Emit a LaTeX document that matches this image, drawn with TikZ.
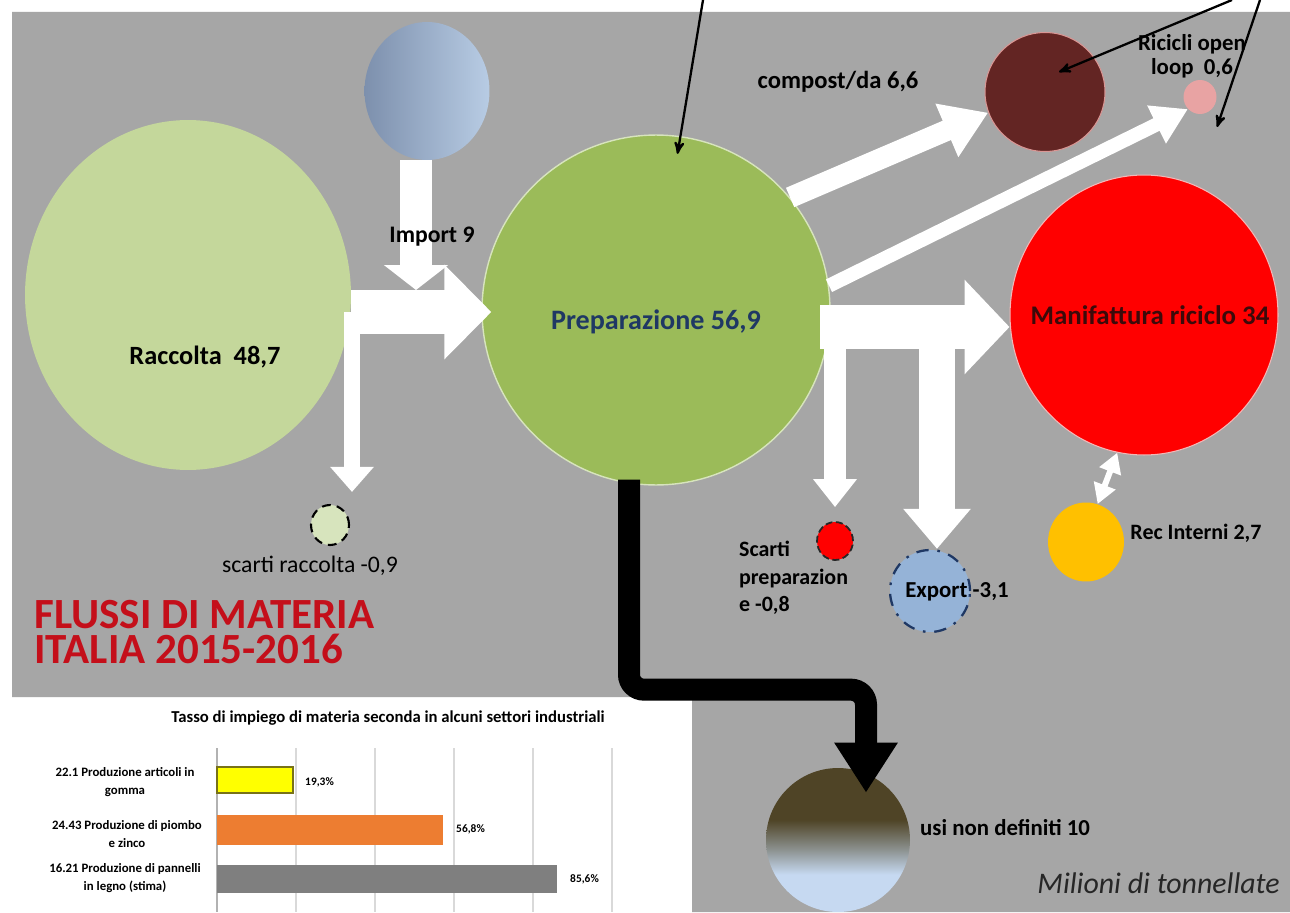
\documentclass[tikz,border=0pt]{standalone}
\usepackage{fontspec}
\setmainfont{Carlito}
\usetikzlibrary{positioning,shapes,calc}
\usetikzlibrary{arrows,arrows.meta}
\usepackage{xcolor}
\definecolor{fondo}{HTML}{A6A6A6}
\definecolor{racc}{HTML}{C4D79B}
\definecolor{prep}{HTML}{9BBB59}
\definecolor{prepb}{HTML}{D7E4BD}
\definecolor{prept}{HTML}{1F3864}
\definecolor{impl}{HTML}{7D90AD}
\definecolor{impr}{HTML}{B8CCE4}
\definecolor{manb}{HTML}{F2B8B8}
\definecolor{manl}{HTML}{3C0A0A}
\definecolor{comp}{HTML}{632523}
\definecolor{compb}{HTML}{D99694}
\definecolor{ric}{HTML}{E8A3A3}
\definecolor{expo}{HTML}{95B3D7}
\definecolor{rec}{HTML}{FFC000}
\definecolor{usit}{HTML}{4F4426}
\definecolor{usib}{HTML}{C6D9F1}
\definecolor{usim}{HTML}{8A8F8C}
\definecolor{tit}{HTML}{C40F1A}
\definecolor{gomma}{HTML}{FFFF00}
\definecolor{piombo}{HTML}{ED7D31}
\definecolor{legno}{HTML}{7F7F7F}
\definecolor{griglia}{HTML}{D9D9D9}
\pgfdeclareverticalshading{usish}{100bp}{color(0bp)=(usib); color(38bp)=(usib);
  color(47bp)=(usim); color(57bp)=(usit); color(100bp)=(usit)}

\begin{document}
\begin{tikzpicture}[x=0.02cm,y=-0.02cm,
    c/.style={ellipse,inner sep=0pt},%
    w/.style={draw=white,line width=#1},%
    k/.style={->,>=stealth',line width=1.3pt},%
    t/.style={font=\fontsize{#1}{#1}\selectfont\bfseries,inner sep=1pt},%
    h/.style={font=\fontsize{24.5}{20}\selectfont\bfseries,text=tit,anchor=base west,
              inner sep=0pt,text height=16pt,text depth=0pt},%
    g/.style={font=\fontsize{7.3}{10}\selectfont\bfseries,align=center,inner sep=0pt}]
    % sfondo
    \fill[white](0,0)rectangle(1290,912);
    \useasboundingbox(0,0)rectangle(1290,912);
    \fill[fondo](12,12)--(1290,12)--(1290,912)--(692,912)--(692,697)--(12,697)--cycle;

    % cerchi
    \node[c,fill=racc,minimum width=6.52cm,minimum height=7cm] (Racc) at (188,295) {};
    \node[c,left color=impl,right color=impr,minimum width=2.5cm,minimum height=2.76cm] (Imp) at (427,91) {};
    \node[c,fill=prep,draw=prepb,line width=.8pt,minimum width=6.96cm,minimum height=7cm] (Prep) at (656,310) {};
    \node[c,fill=red,draw=manb,line width=.6pt,minimum width=5.36cm,minimum height=5.6cm] (Man) at (1144,315) {};
    \node[c,fill=comp,draw=compb,line width=.6pt,minimum width=2.4cm,minimum height=2.38cm] (Comp) at (1045,92) {};
    \node[c,fill=ric,minimum width=.66cm,minimum height=.68cm] (Ric) at (1200,97) {};
    \node[c,fill=prepb,draw=black,line width=1.2pt,dash pattern=on 5pt off 3.5pt,
          minimum width=.76cm,minimum height=.8cm] (SR) at (330,525) {};
    \node[c,fill=red,draw=black!85,line width=1pt,dash pattern=on 4pt off 2pt,
          minimum width=.72cm,minimum height=.76cm] (SP) at (835,541) {};
    \node[c,fill=expo,draw=prept,line width=1.3pt,dash pattern=on 7pt off 5pt on 1.5pt off 5pt,
          minimum width=1.6cm,minimum height=1.64cm] (Exp) at (930,591) {};
    \node[c,fill=rec,minimum width=1.52cm,minimum height=1.58cm] (Rec) at (1086,542) {};
    \node[c,shading=usish,minimum width=2.88cm,minimum height=2.88cm] (Usi) at (838,840) {};

    % nodi dei flussi
    \coordinate (j0) at (416,290);
    \coordinate (j1) at (352,312);
    \coordinate (j2) at (820,327);
    \coordinate (j3) at (835,327);
    \coordinate (j4) at (937,327);
    \coordinate (t1) at (703,0);
    \coordinate (t2) at (1232,0);
    \coordinate (t3) at (1260,0);

    % flussi bianchi
    \draw[w=.64cm,-{Triangle[length=.5cm,width=1.26cm]}] (Imp.south -| j0) -- (j0);
    \draw[w=.9cm,-{Triangle[length=.94cm,width=1.84cm]},shorten >=-.2cm] (Racc.east |- j1) -- (j1 -| Prep.west);
    \draw[w=.32cm,-{Triangle[length=.5cm,width=.84cm]},shorten >=.24cm] (j1) -- (j1 |- SR.north);
    \draw[w=.9cm,-{Triangle[length=.9cm,width=1.84cm]}] (j2) -- (j2 -| Man.west);
    \draw[w=.44cm,-{Triangle[length=.56cm,width=.84cm]},shorten >=.28cm] (j3) -- (j3 |- SP.north);
    \draw[w=.72cm,-{Triangle[length=.8cm,width=1.3cm]}] (j4) -- (j4 |- Exp.north);
    \draw[w=.42cm,-{Triangle[length=.9cm,width=1.1cm]}] (Prep.40) -- (Comp.200);
    \draw[w=.28cm,-{Triangle[length=.7cm,width=.8cm]}] (Prep.8) -- (Ric.225);
    \draw[w=.12cm,{Triangle[length=.4cm,width=.44cm]}-{Triangle[length=.4cm,width=.44cm]}] (Rec.73) -- (Man.259);

    % flussi neri
    \draw[line width=.44cm,rounded corners=.3cm,-{Triangle[length=1cm,width=1.2cm]}]
        ($(Prep.south)+(-27,-6)$) |- ($(Usi.north)+(28,-78)$) -- ($(Usi.north)+(28,25)$);
    \draw[k,shorten >=-.36cm] (t1) -- (Prep.82);
    \draw[k] (t2) -- ($(Comp)+(14,-20)$);
    \draw[k] (t3) -- ($(Ric)+(17,30)$);

    % etichette
    \node[t=15] (RaccL) at (205,357) {Raccolta\ \ 48,7};
    \node[t=13.5] (ImpL) at (432,237) {Import 9};
    \node[t=16,text=prept] (PrepL) at (656,322) {Preparazione 56,9};
    \node[t=15.3,text=manl] (ManL) at (1150,315) {Manifattura riciclo 34};
    \node[t=14] (CompL) at (838,82) {compost/da 6,6};
    \node[t=13,font=\fontsize{13}{13.7}\selectfont\bfseries,align=center] (RicL) at (1192,56) {Ricicli open\\loop\ \ 0,6};
    \node[t=13.5,font=\fontsize{13.5}{14}\selectfont] (SRL) at (310,566) {scarti raccolta -0,9};
    \node[t=12.5,font=\fontsize{12.5}{15.6}\selectfont\bfseries,align=left,anchor=west] (SPL) at (737,578) {Scarti\\preparazion\\e -0,8};
    \node[t=13] (ExpL) at (957,592) {Export\hspace{3pt}-3,1};
    \node[t=12.5,anchor=west,right=.08cm of Rec,yshift=.18cm] (RecL) {Rec Interni 2,7};
    \node[t=13,anchor=west] (UsiL) at (918,828) {usi non definiti 10};
    \node[font=\fontsize{17}{17}\selectfont\itshape,text=black!85,anchor=east] (MilL) at (1286,883) {Milioni di tonnellate};
    \node[h] (Tit1) at (34,628) {FLUSSI DI MATERIA};
    \node[h] (Tit2) at (34,663) {ITALIA 2015-2016};

    % grafico
    \node[font=\fontsize{9.5}{11}\selectfont\bfseries] (GTit) at (388,718) {Tasso di impiego di materia seconda in alcuni settori industriali};
    \foreach \i in {296,375,454,533,612}
        \draw[griglia,line width=.6pt](\i,748)--(\i,912);
    \draw[black!30,line width=.6pt](217,748)--(217,912);
    \fill[gomma,draw=olive!80!black,line width=.6pt](217,767)rectangle(293,793);
    \fill[piombo](217,815)rectangle(443,845);
    \fill[legno](217,865)rectangle(557,893);
    \node[font=\fontsize{6.5}{7}\selectfont\bfseries,anchor=west] (V1) at (299,782) {19,3\%};
    \node[font=\fontsize{6.5}{7}\selectfont\bfseries,anchor=west] (V2) at (450,829) {56,8\%};
    \node[font=\fontsize{6.5}{7}\selectfont\bfseries,anchor=west] (V3) at (564,879) {85,6\%};
    \node[g] (C1) at (125,782) {22.1 Produzione articoli in\\gomma};
    \node[g] (C2) at (127,834) {24.43 Produzione di piombo\\e zinco};
    \node[g] (C3) at (125,878) {16.21 Produzione di pannelli\\in legno (stima)};
\end{tikzpicture}
\end{document}
